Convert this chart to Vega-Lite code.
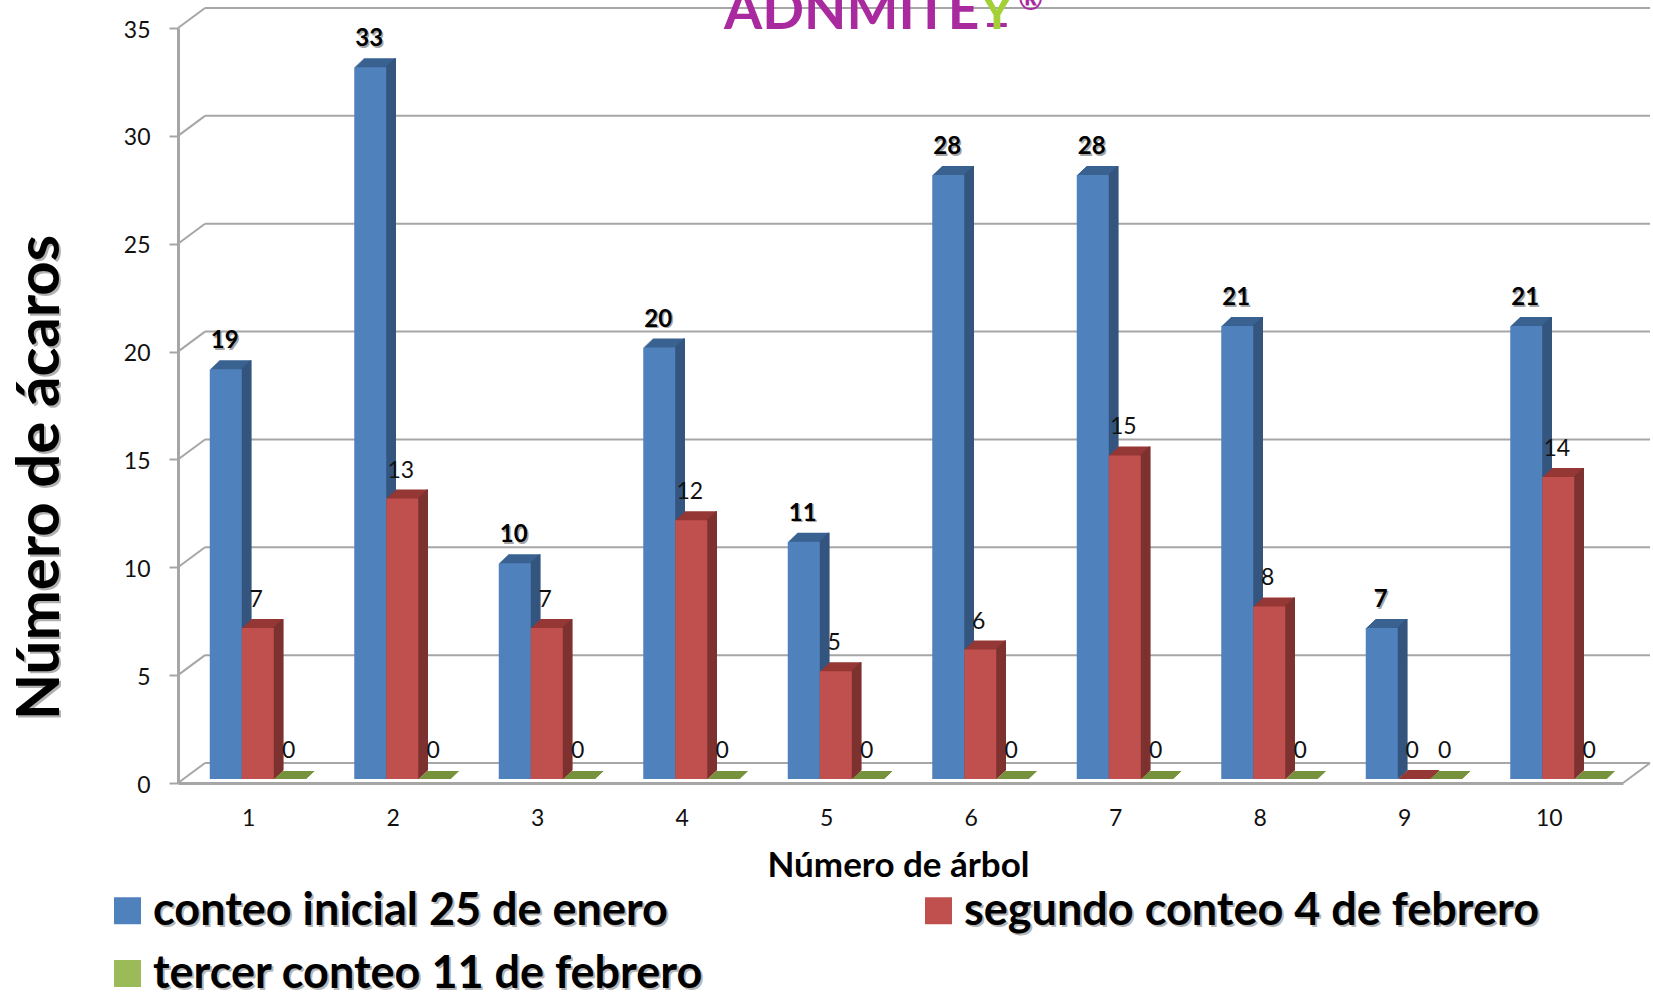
{"$schema":"https://vega.github.io/schema/vega-lite/v6.json","autosize":"none","width":1445,"height":755,"padding":{"left":178,"top":28,"right":30,"bottom":209},"background":"white","config":{"font":"Lato","view":{"stroke":null}},
"datasets":{"grid":[{"value":0,"tree":0.5,"to":10.5},{"value":5,"tree":0.5,"to":10.5},{"value":10,"tree":0.5,"to":10.5},{"value":15,"tree":0.5,"to":10.5},{"value":20,"tree":0.5,"to":10.5},{"value":25,"tree":0.5,"to":10.5},{"value":30,"tree":0.5,"to":10.5},{"value":35,"tree":0.5,"to":10.5}]},
"data":{"values":[
{"tree":1,"serie":"conteo inicial 25 de enero","value":19},{"tree":2,"serie":"conteo inicial 25 de enero","value":33},{"tree":3,"serie":"conteo inicial 25 de enero","value":10},{"tree":4,"serie":"conteo inicial 25 de enero","value":20},{"tree":5,"serie":"conteo inicial 25 de enero","value":11},{"tree":6,"serie":"conteo inicial 25 de enero","value":28},{"tree":7,"serie":"conteo inicial 25 de enero","value":28},{"tree":8,"serie":"conteo inicial 25 de enero","value":21},{"tree":9,"serie":"conteo inicial 25 de enero","value":7},{"tree":10,"serie":"conteo inicial 25 de enero","value":21},
{"tree":1,"serie":"segundo conteo 4 de febrero","value":7},{"tree":2,"serie":"segundo conteo 4 de febrero","value":13},{"tree":3,"serie":"segundo conteo 4 de febrero","value":7},{"tree":4,"serie":"segundo conteo 4 de febrero","value":12},{"tree":5,"serie":"segundo conteo 4 de febrero","value":5},{"tree":6,"serie":"segundo conteo 4 de febrero","value":6},{"tree":7,"serie":"segundo conteo 4 de febrero","value":15},{"tree":8,"serie":"segundo conteo 4 de febrero","value":8},{"tree":9,"serie":"segundo conteo 4 de febrero","value":0},{"tree":10,"serie":"segundo conteo 4 de febrero","value":14},
{"tree":1,"serie":"tercer conteo 11 de febrero","value":0},{"tree":2,"serie":"tercer conteo 11 de febrero","value":0},{"tree":3,"serie":"tercer conteo 11 de febrero","value":0},{"tree":4,"serie":"tercer conteo 11 de febrero","value":0},{"tree":5,"serie":"tercer conteo 11 de febrero","value":0},{"tree":6,"serie":"tercer conteo 11 de febrero","value":0},{"tree":7,"serie":"tercer conteo 11 de febrero","value":0},{"tree":8,"serie":"tercer conteo 11 de febrero","value":0},{"tree":9,"serie":"tercer conteo 11 de febrero","value":0},{"tree":10,"serie":"tercer conteo 11 de febrero","value":0}]},
"encoding":{"x":{"field":"tree","type":"quantitative","scale":{"domain":[0.5,10.5],"nice":false,"padding":0},"axis":{"values":[1,2,3,4,5,6,7,8,9,10],"format":"d","domainColor":"#A6A6A6","domainWidth":3,"ticks":false,"grid":false,"labelFontSize":23,"labelColor":"#111111","labelBaseline":"middle","labelPadding":35,"labelOffset":-2,"labelFlush":false,"labelOverlap":false,"title":"Número de árbol","titleFontSize":35,"titleFontWeight":"bold","titleColor":"#000000","titleX":720,"titleY":82,"titleBaseline":"middle","titleAlign":"center"}},
"y":{"field":"value","type":"quantitative","stack":null,"scale":{"domain":[0,35],"nice":false,"padding":0},"axis":{"values":[0,5,10,15,20,25,30,35],"domainColor":"#A6A6A6","domainWidth":3,"tickColor":"#A6A6A6","tickSize":9,"tickWidth":2,"grid":false,"labelFontSize":23,"labelColor":"#111111","labelPadding":19,"labelOffset":2,"title":"Número de ácaros","titleFontSize":60,"titleFontWeight":"bold","titleColor":"#000000","titleX":-138,"titleY":449,"titleAngle":270,"titleBaseline":"middle","titleAlign":"center"}}},
"layer":[
{"data":{"name":"grid"},"mark":{"type":"rule","xOffset":27,"x2Offset":27,"yOffset":-20,"color":"#A6A6A6","strokeWidth":2},"encoding":{"x2":{"field":"to"}}},
{"data":{"name":"grid"},"mark":{"type":"rule","x2Offset":27,"y2Offset":-20,"color":"#A6A6A6","strokeWidth":2},"encoding":{"x2":{"field":"tree"},"y2":{"field":"value"}}},
{"data":{"values":[{"tree":10.5,"value":0}]},"mark":{"type":"rule","x2Offset":27,"y2Offset":-20,"color":"#A6A6A6","strokeWidth":2},"encoding":{"x2":{"field":"tree"},"y2":{"field":"value"}}},
{"data":{"values":[{"tree":5.5,"value":35,"logo":"ADNMITE"}]},"mark":{"type":"text","align":"left","baseline":"alphabetic","dx":-176.5,"dy":1,"fontSize":55,"fontWeight":"bold","color":"#A92A9F"},"encoding":{"text":{"field":"logo"}}},
{"data":{"values":[{"tree":5.5,"value":35,"logo":"_"}]},"mark":{"type":"text","align":"center","baseline":"alphabetic","dx":96.5,"dy":-8.5,"fontSize":50,"fontWeight":"bold","color":"#A92A9F"},"encoding":{"text":{"field":"logo"}}},
{"data":{"values":[{"tree":5.5,"value":35,"logo":"Y"}]},"mark":{"type":"text","align":"center","baseline":"alphabetic","dx":96.5,"dy":1,"fontSize":50,"fontWeight":"bold","color":"#A4D037"},"encoding":{"text":{"field":"logo"}}},
{"data":{"values":[{"tree":5.5,"value":35,"logo":"®"}]},"mark":{"type":"text","align":"center","baseline":"alphabetic","dx":130,"dy":-18,"fontSize":30,"fontWeight":"bold","color":"#A92A9F"},"encoding":{"text":{"field":"logo"}}},
{"data":{"values":[{"tree":0.5,"value":14.2,"titulo":"Número de ácaros"}]},"mark":{"type":"text","angle":270,"baseline":"middle","align":"center","dx":-3,"dy":-135,"fontSize":60,"fontWeight":"bold","color":"#000000","opacity":0.3},"encoding":{"text":{"field":"titulo"}}},
{"mark":{"type":"point","filled":true,"size":0},"encoding":{"opacity":{"field":"serie","type":"nominal","scale":{"range":[0,0,0]},"legend":{"orient":"none","direction":"horizontal","values":["conteo inicial 25 de enero","segundo conteo 4 de febrero","tercer conteo 11 de febrero"],"legendX":-71,"legendY":862,"zindex":0,"title":null,"columns":2,"symbolType":"square","symbolSize":729,"symbolStrokeWidth":0,"symbolOpacity":0,"labelFontSize":45,"labelFontWeight":"bold","labelColor":"#000000","labelOpacity":0.3,"columnPadding":212,"rowPadding":17,"labelOffset":3,"labelLimit":900}}}},
{"transform":[{"filter":"datum.serie==='conteo inicial 25 de enero'"}],"layer":[
{"mark":{"type":"bar","orient":"vertical","width":32,"color":"#3A6291","xOffset":-23.45,"yOffset":-5,"y2Offset":-4},"encoding":{"y2":{"datum":0}}},{"mark":{"type":"bar","orient":"vertical","width":32,"color":"#3A6291","xOffset":-22.4,"yOffset":-6,"y2Offset":-5},"encoding":{"y2":{"datum":0}}},{"mark":{"type":"bar","orient":"vertical","width":32,"color":"#3A6291","xOffset":-21.35,"yOffset":-7,"y2Offset":-6},"encoding":{"y2":{"datum":0}}},{"mark":{"type":"bar","orient":"vertical","width":32,"color":"#3A6291","xOffset":-20.3,"yOffset":-8,"y2Offset":-7},"encoding":{"y2":{"datum":0}}},{"mark":{"type":"bar","orient":"vertical","width":32,"color":"#3A6291","xOffset":-19.25,"yOffset":-9,"y2Offset":-8},"encoding":{"y2":{"datum":0}}},{"mark":{"type":"bar","orient":"vertical","width":32,"color":"#3A6291","xOffset":-18.2,"yOffset":-10,"y2Offset":-9},"encoding":{"y2":{"datum":0}}},{"mark":{"type":"bar","orient":"vertical","width":32,"color":"#3A6291","xOffset":-17.15,"yOffset":-11,"y2Offset":-10},"encoding":{"y2":{"datum":0}}},{"mark":{"type":"bar","orient":"vertical","width":32,"color":"#3A6291","xOffset":-16.1,"yOffset":-12,"y2Offset":-11},"encoding":{"y2":{"datum":0}}},{"mark":{"type":"bar","orient":"vertical","width":32,"color":"#3A6291","xOffset":-15.05,"yOffset":-13,"y2Offset":-12},"encoding":{"y2":{"datum":0}}},
{"mark":{"type":"bar","orient":"vertical","width":1.6,"color":"#34557E","xOffset":-7.95,"yOffset":-5,"y2Offset":-5},"encoding":{"y2":{"datum":0}}},{"mark":{"type":"bar","orient":"vertical","width":1.6,"color":"#34557E","xOffset":-6.9,"yOffset":-6,"y2Offset":-6},"encoding":{"y2":{"datum":0}}},{"mark":{"type":"bar","orient":"vertical","width":1.6,"color":"#34557E","xOffset":-5.85,"yOffset":-7,"y2Offset":-7},"encoding":{"y2":{"datum":0}}},{"mark":{"type":"bar","orient":"vertical","width":1.6,"color":"#34557E","xOffset":-4.8,"yOffset":-8,"y2Offset":-8},"encoding":{"y2":{"datum":0}}},{"mark":{"type":"bar","orient":"vertical","width":1.6,"color":"#34557E","xOffset":-3.75,"yOffset":-9,"y2Offset":-9},"encoding":{"y2":{"datum":0}}},{"mark":{"type":"bar","orient":"vertical","width":1.6,"color":"#34557E","xOffset":-2.7,"yOffset":-10,"y2Offset":-10},"encoding":{"y2":{"datum":0}}},{"mark":{"type":"bar","orient":"vertical","width":1.6,"color":"#34557E","xOffset":-1.65,"yOffset":-11,"y2Offset":-11},"encoding":{"y2":{"datum":0}}},{"mark":{"type":"bar","orient":"vertical","width":1.6,"color":"#34557E","xOffset":-0.6,"yOffset":-12,"y2Offset":-12},"encoding":{"y2":{"datum":0}}},{"mark":{"type":"bar","orient":"vertical","width":1.6,"color":"#34557E","xOffset":0.45,"yOffset":-13,"y2Offset":-13},"encoding":{"y2":{"datum":0}}},
{"mark":{"type":"bar","orient":"vertical","width":32,"xOffset":-24.5,"yOffset":-4,"y2Offset":-4},"encoding":{"y2":{"datum":0},"color":{"field":"serie","type":"nominal","scale":{"domain":["conteo inicial 25 de enero","segundo conteo 4 de febrero","tercer conteo 11 de febrero"],"range":["#4F81BD","#C0504D","#9BBB59"]},"legend":{"orient":"none","direction":"horizontal","legendX":-73,"legendY":860,"zindex":1,"title":null,"columns":2,"symbolType":"square","symbolSize":729,"symbolStrokeWidth":0,"symbolOpacity":1,"labelFontSize":45,"labelFontWeight":"bold","labelColor":"#000000","columnPadding":212,"rowPadding":17,"labelOffset":3,"labelLimit":900}}}}]},
{"transform":[{"filter":"datum.serie==='tercer conteo 11 de febrero'"}],"layer":[
{"mark":{"type":"bar","orient":"vertical","width":32,"color":"#76923C","xOffset":40.55,"yOffset":-5,"y2Offset":-4},"encoding":{"y2":{"datum":0}}},{"mark":{"type":"bar","orient":"vertical","width":32,"color":"#76923C","xOffset":41.6,"yOffset":-6,"y2Offset":-5},"encoding":{"y2":{"datum":0}}},{"mark":{"type":"bar","orient":"vertical","width":32,"color":"#76923C","xOffset":42.65,"yOffset":-7,"y2Offset":-6},"encoding":{"y2":{"datum":0}}},{"mark":{"type":"bar","orient":"vertical","width":32,"color":"#76923C","xOffset":43.7,"yOffset":-8,"y2Offset":-7},"encoding":{"y2":{"datum":0}}},{"mark":{"type":"bar","orient":"vertical","width":32,"color":"#76923C","xOffset":44.75,"yOffset":-9,"y2Offset":-8},"encoding":{"y2":{"datum":0}}},{"mark":{"type":"bar","orient":"vertical","width":32,"color":"#76923C","xOffset":45.8,"yOffset":-10,"y2Offset":-9},"encoding":{"y2":{"datum":0}}},{"mark":{"type":"bar","orient":"vertical","width":32,"color":"#76923C","xOffset":46.85,"yOffset":-11,"y2Offset":-10},"encoding":{"y2":{"datum":0}}},{"mark":{"type":"bar","orient":"vertical","width":32,"color":"#76923C","xOffset":47.9,"yOffset":-12,"y2Offset":-11},"encoding":{"y2":{"datum":0}}}]},
{"transform":[{"filter":"datum.serie==='segundo conteo 4 de febrero'"}],"layer":[
{"mark":{"type":"bar","orient":"vertical","width":32,"color":"#953735","xOffset":8.55,"yOffset":-5,"y2Offset":-4},"encoding":{"y2":{"datum":0}}},{"mark":{"type":"bar","orient":"vertical","width":32,"color":"#953735","xOffset":9.6,"yOffset":-6,"y2Offset":-5},"encoding":{"y2":{"datum":0}}},{"mark":{"type":"bar","orient":"vertical","width":32,"color":"#953735","xOffset":10.65,"yOffset":-7,"y2Offset":-6},"encoding":{"y2":{"datum":0}}},{"mark":{"type":"bar","orient":"vertical","width":32,"color":"#953735","xOffset":11.7,"yOffset":-8,"y2Offset":-7},"encoding":{"y2":{"datum":0}}},{"mark":{"type":"bar","orient":"vertical","width":32,"color":"#953735","xOffset":12.75,"yOffset":-9,"y2Offset":-8},"encoding":{"y2":{"datum":0}}},{"mark":{"type":"bar","orient":"vertical","width":32,"color":"#953735","xOffset":13.8,"yOffset":-10,"y2Offset":-9},"encoding":{"y2":{"datum":0}}},{"mark":{"type":"bar","orient":"vertical","width":32,"color":"#953735","xOffset":14.85,"yOffset":-11,"y2Offset":-10},"encoding":{"y2":{"datum":0}}},{"mark":{"type":"bar","orient":"vertical","width":32,"color":"#953735","xOffset":15.9,"yOffset":-12,"y2Offset":-11},"encoding":{"y2":{"datum":0}}},{"mark":{"type":"bar","orient":"vertical","width":32,"color":"#953735","xOffset":16.95,"yOffset":-13,"y2Offset":-12},"encoding":{"y2":{"datum":0}}},
{"mark":{"type":"bar","orient":"vertical","width":1.6,"color":"#7D3230","xOffset":24.05,"yOffset":-5,"y2Offset":-5},"encoding":{"y2":{"datum":0}}},{"mark":{"type":"bar","orient":"vertical","width":1.6,"color":"#7D3230","xOffset":25.1,"yOffset":-6,"y2Offset":-6},"encoding":{"y2":{"datum":0}}},{"mark":{"type":"bar","orient":"vertical","width":1.6,"color":"#7D3230","xOffset":26.15,"yOffset":-7,"y2Offset":-7},"encoding":{"y2":{"datum":0}}},{"mark":{"type":"bar","orient":"vertical","width":1.6,"color":"#7D3230","xOffset":27.2,"yOffset":-8,"y2Offset":-8},"encoding":{"y2":{"datum":0}}},{"mark":{"type":"bar","orient":"vertical","width":1.6,"color":"#7D3230","xOffset":28.25,"yOffset":-9,"y2Offset":-9},"encoding":{"y2":{"datum":0}}},{"mark":{"type":"bar","orient":"vertical","width":1.6,"color":"#7D3230","xOffset":29.3,"yOffset":-10,"y2Offset":-10},"encoding":{"y2":{"datum":0}}},{"mark":{"type":"bar","orient":"vertical","width":1.6,"color":"#7D3230","xOffset":30.35,"yOffset":-11,"y2Offset":-11},"encoding":{"y2":{"datum":0}}},{"mark":{"type":"bar","orient":"vertical","width":1.6,"color":"#7D3230","xOffset":31.4,"yOffset":-12,"y2Offset":-12},"encoding":{"y2":{"datum":0}}},{"mark":{"type":"bar","orient":"vertical","width":1.6,"color":"#7D3230","xOffset":32.45,"yOffset":-13,"y2Offset":-13},"encoding":{"y2":{"datum":0}}},
{"mark":{"type":"bar","orient":"vertical","width":32,"color":"#C0504D","xOffset":7.5,"yOffset":-4,"y2Offset":-4},"encoding":{"y2":{"datum":0}}}]},
{"transform":[{"filter":"datum.serie==='conteo inicial 25 de enero'"}],"mark":{"type":"text","baseline":"middle","dx":-24,"dy":-30.5,"fontSize":24,"fontWeight":"bold","color":"#000000","opacity":0.35},"encoding":{"text":{"field":"value","type":"quantitative"}}},
{"transform":[{"filter":"datum.serie==='conteo inicial 25 de enero'"}],"mark":{"type":"text","baseline":"middle","dx":-25.5,"dy":-32,"fontSize":24,"fontWeight":"bold","color":"#000000"},"encoding":{"text":{"field":"value","type":"quantitative"}}},
{"transform":[{"filter":"datum.serie==='segundo conteo 4 de febrero'"}],"mark":{"type":"text","baseline":"middle","dx":6,"dy":-32,"fontSize":23,"color":"#111111"},"encoding":{"text":{"field":"value","type":"quantitative"}}},
{"transform":[{"filter":"datum.serie==='tercer conteo 11 de febrero'"}],"mark":{"type":"text","baseline":"middle","dx":38.5,"dy":-32,"fontSize":23,"color":"#111111"},"encoding":{"text":{"field":"value","type":"quantitative"}}}
]}
